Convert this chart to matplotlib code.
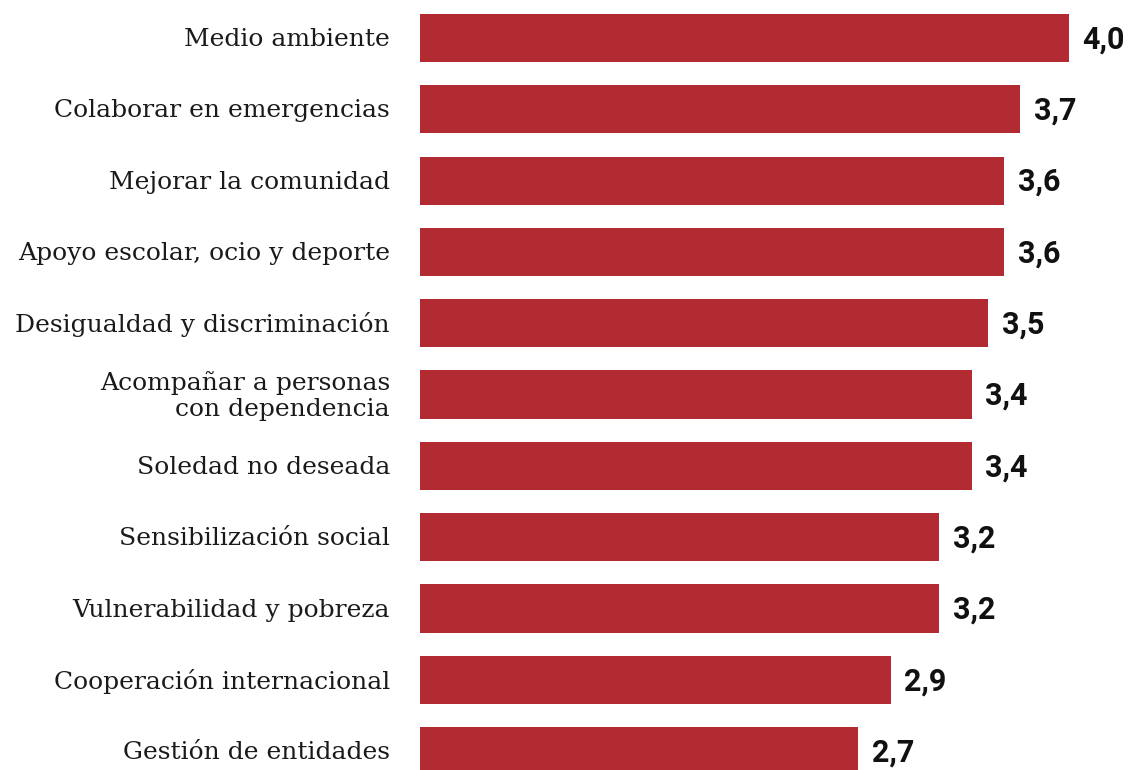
import os
import matplotlib
matplotlib.use("Agg")
import matplotlib.pyplot as plt
from matplotlib import font_manager as fm

categories = [
    "Medio ambiente",
    "Colaborar en emergencias",
    "Mejorar la comunidad",
    "Apoyo escolar, ocio y deporte",
    "Desigualdad y discriminación",
    "Acompañar a personas\ncon dependencia",
    "Soledad no deseada",
    "Sensibilización social",
    "Vulnerabilidad y pobreza",
    "Cooperación internacional",
    "Gestión de entidades",
]
values = [4.0, 3.7, 3.6, 3.6, 3.5, 3.4, 3.4, 3.2, 3.2, 2.9, 2.7]
value_labels = ["4,0", "3,7", "3,6", "3,6", "3,5", "3,4", "3,4", "3,2", "3,2", "2,9", "2,7"]


def font_file(basename, fallback_family, weight="normal", size=12):
    for f in fm.fontManager.ttflist:
        if os.path.basename(f.fname) == basename:
            return fm.FontProperties(fname=f.fname, size=size)
    return fm.FontProperties(family=fallback_family, weight=weight, size=size)


label_fp = font_file("DejaVuSerif.ttf", "DejaVu Serif", size=18)
value_fp = font_file("Roboto-Bold.ttf", "Roboto", weight="bold", size=22)

W, H = 1132, 770
fig = plt.figure(figsize=(W / 100, H / 100), dpi=100)
ax = fig.add_axes([420 / W, 0, 649 / W, 1])

pitch = 71.33
ypos = list(range(len(categories)))
ax.barh(ypos, values, height=48.3 / pitch, color="#B22A32")
ax.set_xlim(0, 4.0)
ax.set_ylim((770 - 38) / pitch, -38 / pitch)
ax.axis("off")

for y, cat, v, lab in zip(ypos, categories, values, value_labels):
    ax.annotate(cat, xy=(0, y), xytext=(-30 * 0.72, -1), textcoords="offset points",
                ha="right", va="center", fontproperties=label_fp,
                color="#1a1a1a", linespacing=1.15, multialignment="right")
    ax.annotate(lab, xy=(v, y), xytext=(13.7 * 0.72, -1), textcoords="offset points",
                ha="left", va="center", fontproperties=value_fp, color="#111111")

fig.savefig("out.png", dpi=100)
